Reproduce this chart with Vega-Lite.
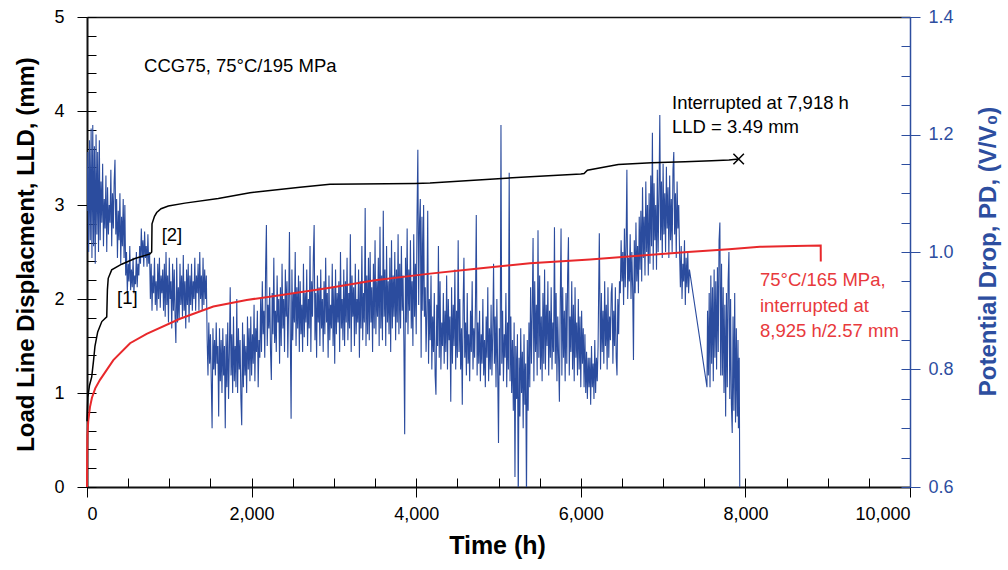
{
  "$schema": "https://vega.github.io/schema/vega-lite/v6.json",
  "width": 823,
  "height": 470,
  "autosize": {"type": "none"},
  "padding": {"left": 87, "top": 17, "right": 98, "bottom": 83},
  "background": "white",
  "config": {
    "font": "Liberation Sans",
    "view": {"stroke": null},
    "axis": {
      "grid": false,
      "labelFont": "Liberation Sans",
      "labelFontSize": 18,
      "labelColor": "black",
      "titleFont": "Liberation Sans",
      "titleFontSize": 24,
      "titleFontWeight": "bold",
      "titleColor": "black",
      "domainColor": "black",
      "tickColor": "black",
      "tickWidth": 1
    }
  },
  "datasets": {
    "pd": [
      {"t":0,"pd":1.07},{"t":10,"pd":1.17},{"t":20,"pd":1.00},{"t":30,"pd":1.19},{"t":40,"pd":1.02},{"t":50,"pd":1.21},{"t":60,"pd":0.99},{"t":70,"pd":1.216},{"t":80,"pd":1.01},{"t":90,"pd":1.18},{"t":100,"pd":0.98},{"t":110,"pd":1.20},{"t":120,"pd":1.03},{"t":130,"pd":1.17},{"t":140,"pd":1.00},{"t":150,"pd":1.19},
      {"t":160,"pd":1.02},{"t":170,"pd":1.12},{"t":180,"pd":1.05},{"t":190,"pd":1.15},{"t":200,"pd":1.01},{"t":210,"pd":1.09},{"t":220,"pd":1.04},{"t":230,"pd":1.13},{"t":240,"pd":1.00},{"t":250,"pd":1.11},{"t":260,"pd":1.03},{"t":270,"pd":1.08},{"t":280,"pd":1.05},{"t":290,"pd":1.14},{"t":300,"pd":1.01},{"t":310,"pd":1.10},{"t":320,"pd":1.04},{"t":330,"pd":1.12},{"t":340,"pd":1.157},
      {"t":350,"pd":1.03},{"t":360,"pd":1.09},{"t":370,"pd":0.99},{"t":380,"pd":1.07},{"t":390,"pd":1.02},{"t":400,"pd":1.10},{"t":410,"pd":0.98},{"t":420,"pd":1.06},{"t":430,"pd":1.01},{"t":440,"pd":1.09},{"t":450,"pd":0.99},{"t":460,"pd":1.08},
      {"t":470,"pd":0.96},{"t":480,"pd":1.00},{"t":490,"pd":0.93},{"t":500,"pd":0.98},{"t":510,"pd":0.95},{"t":520,"pd":1.01},{"t":530,"pd":0.935},{"t":540,"pd":0.97},{"t":550,"pd":0.94},{"t":560,"pd":0.99},{"t":570,"pd":0.93},{"t":580,"pd":0.96},{"t":590,"pd":0.945},{"t":600,"pd":1.00},{"t":610,"pd":0.94},{"t":620,"pd":0.98},{"t":630,"pd":0.96},{"t":640,"pd":1.01},
      {"t":650,"pd":0.98},{"t":660,"pd":1.04},{"t":670,"pd":0.99},{"t":680,"pd":1.02},{"t":690,"pd":0.975},{"t":700,"pd":1.035},{"t":710,"pd":0.99},{"t":720,"pd":1.01},{"t":730,"pd":0.975},{"t":740,"pd":1.03},{"t":750,"pd":0.98},{"t":760,"pd":1.00},
      {"t":770,"pd":0.92},{"t":780,"pd":0.98},{"t":790,"pd":0.90},{"t":800,"pd":0.96},{"t":810,"pd":0.93},{"t":820,"pd":0.99},{"t":830,"pd":0.91},{"t":840,"pd":0.95},{"t":850,"pd":0.90},{"t":860,"pd":0.98},{"t":870,"pd":0.92},{"t":880,"pd":0.99},{"t":890,"pd":0.905},{"t":900,"pd":0.96},{"t":910,"pd":0.93},{"t":920,"pd":0.97},{"t":930,"pd":0.90},{"t":940,"pd":0.98},
      {"t":950,"pd":0.89},{"t":960,"pd":1.00},{"t":970,"pd":0.91},{"t":980,"pd":0.96},{"t":990,"pd":0.88},{"t":1000,"pd":0.99},{"t":1010,"pd":0.92},{"t":1020,"pd":0.95},{"t":1030,"pd":0.87},{"t":1040,"pd":0.98},{"t":1050,"pd":0.90},{"t":1060,"pd":0.97},{"t":1070,"pd":0.89},{"t":1080,"pd":0.845},{"t":1090,"pd":0.99},{"t":1100,"pd":0.88},{"t":1110,"pd":0.94},{"t":1120,"pd":0.885},{"t":1130,"pd":0.98},{"t":1140,"pd":0.91},{"t":1150,"pd":0.96},{"t":1160,"pd":0.89},{"t":1170,"pd":0.995},{"t":1180,"pd":0.90},{"t":1190,"pd":0.95},{"t":1200,"pd":0.87},{"t":1210,"pd":0.97},{"t":1220,"pd":0.91},{"t":1230,"pd":0.98},{"t":1240,"pd":0.88},
      {"t":1250,"pd":0.96},{"t":1260,"pd":0.91},{"t":1270,"pd":0.98},{"t":1280,"pd":0.90},{"t":1290,"pd":0.95},{"t":1300,"pd":0.92},{"t":1310,"pd":0.99},{"t":1320,"pd":0.90},{"t":1330,"pd":0.96},{"t":1340,"pd":0.93},{"t":1350,"pd":0.98},{"t":1360,"pd":0.90},{"t":1370,"pd":1.00},{"t":1380,"pd":0.92},{"t":1390,"pd":0.96},{"t":1400,"pd":0.90},{"t":1410,"pd":0.99},{"t":1420,"pd":0.91},{"t":1430,"pd":0.97},{"t":1440,"pd":0.92},{"t":1450,"pd":0.96},
      {"t":1460,"pd":0.85},{"t":1470,"pd":0.79},{"t":1480,"pd":0.88},{"t":1490,"pd":0.81},{"t":1500,"pd":0.86},{"t":1510,"pd":0.78},{"t":1520,"pd":0.70},{"t":1530,"pd":0.87},{"t":1540,"pd":0.80},{"t":1550,"pd":0.85},{"t":1560,"pd":0.79},{"t":1570,"pd":0.88},{"t":1580,"pd":0.81},{"t":1590,"pd":0.84},{"t":1600,"pd":0.72},{"t":1610,"pd":0.87},
      {"t":1620,"pd":0.78},{"t":1630,"pd":0.85},{"t":1640,"pd":0.76},{"t":1650,"pd":0.87},{"t":1660,"pd":0.79},{"t":1670,"pd":0.84},{"t":1680,"pd":0.70},{"t":1690,"pd":0.86},{"t":1700,"pd":0.77},{"t":1710,"pd":0.88},{"t":1720,"pd":0.75},{"t":1730,"pd":0.83},{"t":1740,"pd":0.94},{"t":1750,"pd":0.79},{"t":1760,"pd":0.86},{"t":1770,"pd":0.76},{"t":1780,"pd":0.89},{"t":1790,"pd":0.78},{"t":1800,"pd":0.84},{"t":1810,"pd":0.77},{"t":1820,"pd":0.92},{"t":1830,"pd":0.76},{"t":1840,"pd":0.87},{"t":1850,"pd":0.80},{"t":1860,"pd":0.85},{"t":1870,"pd":0.75},{"t":1880,"pd":0.705},{"t":1890,"pd":0.88},{"t":1900,"pd":0.77},{"t":1910,"pd":0.86},{"t":1920,"pd":0.79},{"t":1930,"pd":0.84},{"t":1940,"pd":0.76},{"t":1950,"pd":0.89},{"t":1960,"pd":0.80},{"t":1970,"pd":0.87},{"t":1980,"pd":0.78},
      {"t":1990,"pd":0.89},{"t":2000,"pd":0.79},{"t":2010,"pd":0.86},{"t":2020,"pd":0.81},{"t":2030,"pd":0.91},{"t":2040,"pd":0.78},{"t":2050,"pd":0.87},{"t":2060,"pd":0.83},{"t":2070,"pd":0.90},{"t":2080,"pd":0.77},{"t":2090,"pd":0.85},{"t":2100,"pd":0.82},
      {"t":2110,"pd":0.92},{"t":2120,"pd":0.83},{"t":2130,"pd":0.95},{"t":2140,"pd":0.86},{"t":2150,"pd":0.90},{"t":2160,"pd":0.82},{"t":2170,"pd":0.97},{"t":2180,"pd":1.046},{"t":2190,"pd":0.84},{"t":2200,"pd":0.91},{"t":2210,"pd":0.87},{"t":2220,"pd":0.94},{"t":2230,"pd":0.83},{"t":2240,"pd":0.782},{"t":2250,"pd":0.93},{"t":2260,"pd":0.86},{"t":2270,"pd":0.99},{"t":2280,"pd":0.845},{"t":2290,"pd":0.90},{"t":2300,"pd":0.83},{"t":2310,"pd":0.96},{"t":2320,"pd":0.88},{"t":2330,"pd":0.92},{"t":2340,"pd":0.81},
      {"t":2350,"pd":0.94},{"t":2360,"pd":0.84},{"t":2370,"pd":0.98},{"t":2380,"pd":0.87},{"t":2390,"pd":0.92},{"t":2400,"pd":0.83},{"t":2410,"pd":0.97},{"t":2420,"pd":0.89},{"t":2430,"pd":0.95},{"t":2440,"pd":0.82},{"t":2450,"pd":0.91},{"t":2460,"pd":1.034},{"t":2470,"pd":0.86},{"t":2480,"pd":0.716},{"t":2490,"pd":0.97},{"t":2500,"pd":0.85},{"t":2510,"pd":0.93},{"t":2520,"pd":0.88},{"t":2530,"pd":1.00},{"t":2540,"pd":0.84},{"t":2550,"pd":0.94},{"t":2560,"pd":0.87},{"t":2570,"pd":0.96},{"t":2580,"pd":0.83},
      {"t":2590,"pd":0.95},{"t":2600,"pd":0.86},{"t":2610,"pd":0.91},{"t":2620,"pd":0.83},{"t":2630,"pd":0.98},{"t":2640,"pd":0.855},{"t":2650,"pd":0.93},{"t":2660,"pd":0.88},{"t":2670,"pd":0.97},{"t":2680,"pd":0.84},{"t":2690,"pd":0.92},{"t":2700,"pd":0.87},{"t":2710,"pd":1.01},{"t":2720,"pd":0.83},{"t":2730,"pd":0.95},{"t":2740,"pd":0.89},{"t":2750,"pd":0.99},{"t":2760,"pd":1.046},{"t":2770,"pd":0.85},{"t":2780,"pd":0.93},{"t":2790,"pd":0.82},{"t":2800,"pd":0.96},{"t":2810,"pd":0.88},{"t":2820,"pd":0.94},
      {"t":2830,"pd":0.84},{"t":2840,"pd":0.97},{"t":2850,"pd":0.87},{"t":2860,"pd":0.92},{"t":2870,"pd":0.83},{"t":2880,"pd":0.95},{"t":2890,"pd":0.86},{"t":2900,"pd":0.99},{"t":2910,"pd":0.88},{"t":2920,"pd":0.93},{"t":2930,"pd":0.82},{"t":2940,"pd":0.96},{"t":2950,"pd":0.85},{"t":2960,"pd":0.91},{"t":2970,"pd":0.87},{"t":2980,"pd":0.98},{"t":2990,"pd":0.84},{"t":3000,"pd":0.94},{"t":3010,"pd":0.81},{"t":3020,"pd":0.97},{"t":3030,"pd":0.86},{"t":3040,"pd":0.93},{"t":3050,"pd":0.88},{"t":3060,"pd":0.95},{"t":3070,"pd":0.83},{"t":3080,"pd":1.00},{"t":3090,"pd":0.87},{"t":3100,"pd":0.92},{"t":3110,"pd":0.85},{"t":3120,"pd":0.97},
      {"t":3130,"pd":0.84},{"t":3140,"pd":0.95},{"t":3150,"pd":0.88},{"t":3160,"pd":0.99},{"t":3170,"pd":0.85},{"t":3180,"pd":0.93},{"t":3190,"pd":0.87},{"t":3200,"pd":1.03},{"t":3210,"pd":0.83},{"t":3220,"pd":0.96},{"t":3230,"pd":0.89},{"t":3240,"pd":0.94},{"t":3250,"pd":0.84},{"t":3260,"pd":0.98},{"t":3270,"pd":0.86},{"t":3280,"pd":0.92},{"t":3290,"pd":0.88},{"t":3300,"pd":0.97},{"t":3310,"pd":0.82},{"t":3320,"pd":0.95},{"t":3330,"pd":0.87},{"t":3340,"pd":1.01},{"t":3350,"pd":0.85},{"t":3360,"pd":0.93},{"t":3370,"pd":0.88},{"t":3380,"pd":1.075},{"t":3390,"pd":0.84},{"t":3400,"pd":0.96},{"t":3410,"pd":0.86},{"t":3420,"pd":0.99},
      {"t":3430,"pd":0.85},{"t":3440,"pd":1.00},{"t":3450,"pd":0.88},{"t":3460,"pd":0.94},{"t":3470,"pd":0.83},{"t":3480,"pd":0.98},{"t":3490,"pd":0.87},{"t":3500,"pd":1.02},{"t":3510,"pd":0.86},{"t":3520,"pd":0.95},{"t":3530,"pd":0.89},{"t":3540,"pd":0.99},{"t":3550,"pd":0.84},{"t":3560,"pd":1.043},{"t":3570,"pd":0.87},{"t":3580,"pd":0.96},{"t":3590,"pd":0.85},{"t":3600,"pd":1.07},{"t":3610,"pd":0.89},{"t":3620,"pd":0.97},{"t":3630,"pd":0.84},{"t":3640,"pd":1.01},{"t":3650,"pd":0.88},{"t":3660,"pd":0.95},{"t":3670,"pd":0.86},{"t":3680,"pd":0.99},{"t":3690,"pd":0.83},{"t":3700,"pd":1.02},{"t":3710,"pd":0.87},{"t":3720,"pd":0.96},{"t":3730,"pd":0.89},{"t":3740,"pd":1.00},{"t":3750,"pd":0.85},{"t":3760,"pd":0.97},{"t":3770,"pd":0.88},{"t":3780,"pd":1.03},{"t":3790,"pd":0.86},{"t":3800,"pd":0.98},
      {"t":3810,"pd":0.87},{"t":3820,"pd":1.01},{"t":3830,"pd":0.90},{"t":3840,"pd":0.96},{"t":3850,"pd":0.85},{"t":3860,"pd":0.69},{"t":3870,"pd":0.99},{"t":3880,"pd":0.88},{"t":3890,"pd":1.04},{"t":3900,"pd":0.86},{"t":3910,"pd":0.97},{"t":3920,"pd":0.90},{"t":3930,"pd":1.02},{"t":3940,"pd":0.87},{"t":3950,"pd":0.95},{"t":3960,"pd":0.84},{"t":3970,"pd":1.03},{"t":3980,"pd":0.89},{"t":3990,"pd":0.98},{"t":4000,"pd":0.86},{"t":4010,"pd":1.06},{"t":4020,"pd":1.174},{"t":4030,"pd":0.91},{"t":4040,"pd":1.05},
      {"t":4050,"pd":1.09},{"t":4060,"pd":0.82},{"t":4070,"pd":1.06},{"t":4080,"pd":0.90},{"t":4090,"pd":1.08},{"t":4100,"pd":0.89},
      {"t":4110,"pd":0.94},{"t":4120,"pd":0.83},{"t":4130,"pd":0.90},{"t":4140,"pd":1.07},{"t":4150,"pd":0.81},{"t":4160,"pd":0.92},{"t":4170,"pd":0.85},{"t":4180,"pd":0.96},{"t":4190,"pd":0.80},{"t":4200,"pd":0.89},{"t":4210,"pd":0.83},{"t":4220,"pd":0.93},{"t":4230,"pd":0.79},{"t":4240,"pd":0.757},{"t":4250,"pd":0.91},{"t":4260,"pd":0.84},{"t":4270,"pd":1.01},{"t":4280,"pd":0.82},{"t":4290,"pd":0.95},{"t":4300,"pd":0.80},{"t":4310,"pd":0.88},{"t":4320,"pd":0.84},{"t":4330,"pd":0.93},{"t":4340,"pd":0.81},
      {"t":4350,"pd":0.90},{"t":4360,"pd":0.83},{"t":4370,"pd":0.96},{"t":4380,"pd":0.80},{"t":4390,"pd":0.92},{"t":4400,"pd":0.85},{"t":4410,"pd":0.89},{"t":4420,"pd":0.745},{"t":4430,"pd":0.94},{"t":4440,"pd":0.81},{"t":4450,"pd":0.91},{"t":4460,"pd":0.84},{"t":4470,"pd":0.97},{"t":4480,"pd":0.80},{"t":4490,"pd":0.90},{"t":4500,"pd":0.82},{"t":4510,"pd":1.02},{"t":4520,"pd":0.83},
      {"t":4530,"pd":0.92},{"t":4540,"pd":0.80},{"t":4550,"pd":0.87},{"t":4560,"pd":0.74},{"t":4570,"pd":0.91},{"t":4580,"pd":0.99},{"t":4590,"pd":0.82},{"t":4600,"pd":0.88},{"t":4610,"pd":0.79},{"t":4620,"pd":0.93},{"t":4630,"pd":0.81},{"t":4640,"pd":0.86},{"t":4650,"pd":0.78},{"t":4660,"pd":0.90},{"t":4670,"pd":0.83},{"t":4680,"pd":0.95},{"t":4690,"pd":0.80},{"t":4700,"pd":0.87},{"t":4710,"pd":0.82},{"t":4720,"pd":0.91},{"t":4730,"pd":1.063},{"t":4740,"pd":0.79},{"t":4750,"pd":0.88},{"t":4760,"pd":0.81},
      {"t":4770,"pd":0.90},{"t":4780,"pd":0.78},{"t":4790,"pd":0.86},{"t":4800,"pd":0.81},{"t":4810,"pd":0.92},{"t":4820,"pd":0.79},{"t":4830,"pd":0.85},{"t":4840,"pd":0.77},{"t":4850,"pd":0.89},{"t":4860,"pd":0.82},{"t":4870,"pd":0.94},{"t":4880,"pd":0.78},{"t":4890,"pd":0.87},{"t":4900,"pd":0.80},{"t":4910,"pd":0.91},{"t":4920,"pd":0.79},{"t":4930,"pd":0.86},{"t":4940,"pd":0.98},{"t":4950,"pd":0.81},{"t":4960,"pd":0.89},{"t":4970,"pd":0.77},{"t":4980,"pd":0.92},{"t":4990,"pd":0.80},{"t":5000,"pd":0.675},
      {"t":5010,"pd":0.87},{"t":5020,"pd":0.79},{"t":5030,"pd":1.216},{"t":5040,"pd":0.81},{"t":5050,"pd":0.90},{"t":5060,"pd":0.78},{"t":5070,"pd":0.86},{"t":5080,"pd":0.82},{"t":5090,"pd":0.93},{"t":5100,"pd":0.77},{"t":5110,"pd":0.88},{"t":5120,"pd":0.80},{"t":5130,"pd":1.135},{"t":5140,"pd":0.78},{"t":5150,"pd":0.89},{"t":5160,"pd":0.76},
      {"t":5170,"pd":0.85},{"t":5180,"pd":0.73},{"t":5190,"pd":0.88},{"t":5200,"pd":0.617},{"t":5210,"pd":0.84},{"t":5220,"pd":0.75},{"t":5230,"pd":0.86},{"t":5240,"pd":0.57},{"t":5250,"pd":0.82},{"t":5260,"pd":0.72},{"t":5270,"pd":0.87},{"t":5280,"pd":0.76},{"t":5290,"pd":0.83},{"t":5300,"pd":0.70},{"t":5310,"pd":0.86},{"t":5320,"pd":0.74},{"t":5330,"pd":0.81},{"t":5340,"pd":0.58},{"t":5350,"pd":0.85},{"t":5360,"pd":0.73},{"t":5370,"pd":0.88},{"t":5380,"pd":0.77},
      {"t":5390,"pd":0.94},{"t":5400,"pd":0.81},{"t":5410,"pd":0.90},{"t":5420,"pd":1.024},{"t":5430,"pd":0.78},{"t":5440,"pd":0.95},{"t":5450,"pd":0.83},{"t":5460,"pd":0.91},{"t":5470,"pd":0.79},{"t":5480,"pd":1.037},{"t":5490,"pd":0.82},{"t":5500,"pd":0.96},{"t":5510,"pd":0.80},{"t":5520,"pd":0.89},{"t":5530,"pd":0.78},{"t":5540,"pd":0.93},{"t":5550,"pd":0.81},{"t":5560,"pd":0.97},
      {"t":5570,"pd":0.80},{"t":5580,"pd":0.91},{"t":5590,"pd":0.84},{"t":5600,"pd":0.95},{"t":5610,"pd":0.79},{"t":5620,"pd":0.90},{"t":5630,"pd":0.82},{"t":5640,"pd":0.94},{"t":5650,"pd":0.80},{"t":5660,"pd":0.88},{"t":5670,"pd":0.83},{"t":5680,"pd":1.042},{"t":5690,"pd":0.81},{"t":5700,"pd":0.93},{"t":5710,"pd":0.78},{"t":5720,"pd":0.89},{"t":5730,"pd":0.82},{"t":5740,"pd":0.745},
      {"t":5750,"pd":0.91},{"t":5760,"pd":1.04},{"t":5770,"pd":0.79},{"t":5780,"pd":0.94},{"t":5790,"pd":0.82},{"t":5800,"pd":0.90},{"t":5810,"pd":0.78},{"t":5820,"pd":0.93},{"t":5830,"pd":0.81},{"t":5840,"pd":0.96},{"t":5850,"pd":1.025},{"t":5860,"pd":0.79},{"t":5870,"pd":0.89},{"t":5880,"pd":0.83},{"t":5890,"pd":0.95},{"t":5900,"pd":0.80},{"t":5910,"pd":0.91},{"t":5920,"pd":0.78},{"t":5930,"pd":0.94},{"t":5940,"pd":0.82},{"t":5950,"pd":0.88},{"t":5960,"pd":0.79},{"t":5970,"pd":0.92},{"t":5980,"pd":0.80},{"t":5990,"pd":0.89},{"t":6000,"pd":0.77},{"t":6010,"pd":0.90},{"t":6020,"pd":0.81},{"t":6030,"pd":0.87},{"t":6040,"pd":0.77},{"t":6050,"pd":0.86},{"t":6060,"pd":0.76},{"t":6070,"pd":0.83},{"t":6080,"pd":0.75},{"t":6090,"pd":0.82},{"t":6100,"pd":0.77},
      {"t":6110,"pd":0.82},{"t":6120,"pd":0.74},{"t":6130,"pd":0.84},{"t":6140,"pd":0.77},{"t":6150,"pd":0.81},{"t":6160,"pd":0.75},{"t":6170,"pd":0.85},{"t":6180,"pd":0.76},{"t":6190,"pd":0.82},{"t":6200,"pd":0.78},{"t":6210,"pd":0.84},{"t":6225,"pd":1.032},
      {"t":6240,"pd":0.80},{"t":6250,"pd":0.93},{"t":6260,"pd":0.83},{"t":6270,"pd":0.90},{"t":6280,"pd":0.81},{"t":6290,"pd":0.95},{"t":6300,"pd":0.84},{"t":6310,"pd":0.91},{"t":6320,"pd":0.80},{"t":6330,"pd":0.94},{"t":6340,"pd":0.82},{"t":6350,"pd":0.89},{"t":6360,"pd":0.85},{"t":6370,"pd":0.93},{"t":6380,"pd":0.947},{"t":6390,"pd":0.81},{"t":6400,"pd":0.90},{"t":6410,"pd":0.84},{"t":6420,"pd":0.94},{"t":6430,"pd":0.82},{"t":6440,"pd":0.79},{"t":6450,"pd":0.92},{"t":6460,"pd":0.86},{"t":6470,"pd":0.95},
      {"t":6480,"pd":0.93},{"t":6490,"pd":1.02},{"t":6500,"pd":0.95},{"t":6510,"pd":1.00},{"t":6520,"pd":0.91},{"t":6530,"pd":1.04},{"t":6540,"pd":0.94},{"t":6550,"pd":1.01},{"t":6560,"pd":1.14},{"t":6570,"pd":0.92},{"t":6580,"pd":0.99},{"t":6590,"pd":0.95},{"t":6600,"pd":1.03},{"t":6610,"pd":0.92},{"t":6620,"pd":1.00},{"t":6630,"pd":0.94},{"t":6640,"pd":0.816},{"t":6650,"pd":1.02},{"t":6660,"pd":0.93},{"t":6670,"pd":1.05},{"t":6680,"pd":0.95},{"t":6690,"pd":1.01},{"t":6700,"pd":0.93},{"t":6710,"pd":1.06},
      {"t":6720,"pd":0.97},{"t":6730,"pd":1.07},{"t":6740,"pd":0.95},{"t":6750,"pd":1.11},{"t":6760,"pd":0.99},{"t":6770,"pd":1.06},{"t":6780,"pd":0.96},{"t":6790,"pd":1.12},{"t":6800,"pd":1.00},{"t":6810,"pd":1.08},{"t":6820,"pd":0.96},{"t":6830,"pd":1.10},{"t":6840,"pd":0.98},{"t":6850,"pd":1.13},{"t":6860,"pd":1.01},{"t":6870,"pd":1.203},{"t":6880,"pd":0.97},{"t":6890,"pd":1.117},{"t":6900,"pd":1.02},{"t":6910,"pd":1.08},{"t":6920,"pd":0.97},{"t":6930,"pd":1.14},{"t":6940,"pd":1.00},{"t":6950,"pd":1.10},{"t":6960,"pd":1.233},
      {"t":6970,"pd":1.02},{"t":6980,"pd":1.12},{"t":6990,"pd":0.99},{"t":7000,"pd":1.15},{"t":7010,"pd":1.03},{"t":7020,"pd":1.10},{"t":7030,"pd":1.00},{"t":7040,"pd":1.145},{"t":7050,"pd":1.04},{"t":7060,"pd":1.11},{"t":7070,"pd":0.99},{"t":7080,"pd":1.13},{"t":7090,"pd":1.02},{"t":7100,"pd":1.09},{"t":7110,"pd":1.00},{"t":7120,"pd":1.14},{"t":7130,"pd":1.17},{"t":7140,"pd":1.03},{"t":7150,"pd":1.10},{"t":7160,"pd":0.99},{"t":7170,"pd":1.12},{"t":7180,"pd":1.04},{"t":7190,"pd":1.08},{"t":7200,"pd":1.00},
      {"t":7210,"pd":0.94},{"t":7220,"pd":1.01},{"t":7230,"pd":0.92},{"t":7240,"pd":0.98},{"t":7250,"pd":0.95},{"t":7260,"pd":1.02},{"t":7270,"pd":0.91},{"t":7280,"pd":0.99},{"t":7290,"pd":0.94},{"t":7300,"pd":1.00},{"t":7310,"pd":0.93},{"t":7320,"pd":0.97},
      {"t":7533,"pd":0.77},
      {"t":7540,"pd":0.90},{"t":7550,"pd":0.79},{"t":7560,"pd":0.93},{"t":7570,"pd":0.77},{"t":7580,"pd":0.96},{"t":7590,"pd":0.81},{"t":7600,"pd":0.94},{"t":7610,"pd":0.78},{"t":7620,"pd":0.97},{"t":7630,"pd":0.82},{"t":7640,"pd":0.95},{"t":7650,"pd":0.80},{"t":7660,"pd":0.974},{"t":7670,"pd":0.83},{"t":7680,"pd":1.02},{"t":7690,"pd":1.05},{"t":7700,"pd":0.79},{"t":7710,"pd":0.98},
      {"t":7720,"pd":0.79},{"t":7730,"pd":0.94},{"t":7740,"pd":0.76},{"t":7750,"pd":0.91},{"t":7760,"pd":0.72},{"t":7770,"pd":0.93},{"t":7780,"pd":0.77},{"t":7790,"pd":0.95},{"t":7800,"pd":1.00},{"t":7810,"pd":0.75},{"t":7820,"pd":0.92},{"t":7830,"pd":0.74},{"t":7840,"pd":0.692},{"t":7850,"pd":0.89},{"t":7860,"pd":0.73},{"t":7870,"pd":0.93},{"t":7880,"pd":0.71},{"t":7890,"pd":0.87},{"t":7900,"pd":0.72},{"t":7910,"pd":0.85},{"t":7915,"pd":0.70},{"t":7925,"pd":0.82},{"t":7932,"pd":0.58}
    ],
    "red": [
      {"t":0,"lld":0},{"t":2,"lld":0.35},{"t":5,"lld":0.55},{"t":15,"lld":0.7},{"t":36,"lld":0.85},{"t":60,"lld":0.95},{"t":100,"lld":1.05},{"t":158,"lld":1.14},{"t":320,"lld":1.35},{"t":523,"lld":1.53},{"t":725,"lld":1.63},{"t":1130,"lld":1.79},{"t":1535,"lld":1.92},{"t":1940,"lld":1.99},{"t":2345,"lld":2.04},{"t":2953,"lld":2.12},{"t":3500,"lld":2.2},{"t":4168,"lld":2.27},{"t":4700,"lld":2.32},{"t":5383,"lld":2.38},{"t":6111,"lld":2.42},{"t":6700,"lld":2.46},{"t":7300,"lld":2.5},{"t":7800,"lld":2.53},{"t":8177,"lld":2.555},{"t":8600,"lld":2.565},{"t":8915,"lld":2.57},{"t":8916,"lld":2.4}
    ],
    "black": [
      {"t":0,"lld":0.7},{"t":10,"lld":0.95},{"t":30,"lld":1.08},{"t":57,"lld":1.17},{"t":80,"lld":1.35},{"t":97,"lld":1.5},{"t":130,"lld":1.65},{"t":180,"lld":1.76},{"t":240,"lld":1.81},{"t":248,"lld":2.1},{"t":258,"lld":2.22},{"t":300,"lld":2.31},{"t":421,"lld":2.37},{"t":583,"lld":2.43},{"t":766,"lld":2.48},{"t":786,"lld":2.5},{"t":790,"lld":2.8},{"t":820,"lld":2.88},{"t":847,"lld":2.92},{"t":900,"lld":2.96},{"t":988,"lld":2.99},{"t":1190,"lld":3.02},{"t":1595,"lld":3.07},{"t":1980,"lld":3.13},{"t":2588,"lld":3.19},{"t":2953,"lld":3.22},{"t":3985,"lld":3.23},{"t":4168,"lld":3.235},{"t":4994,"lld":3.28},{"t":5383,"lld":3.3},{"t":6000,"lld":3.33},{"t":6040,"lld":3.335},{"t":6080,"lld":3.37},{"t":6455,"lld":3.43},{"t":6860,"lld":3.45},{"t":7266,"lld":3.46},{"t":7590,"lld":3.47},{"t":7800,"lld":3.48},{"t":7918,"lld":3.49}
    ],
    "marker": [{"t":7918,"lld":3.49}],
    "notesBlack": [
      {"t":693,"lld":4.48,"label":"CCG75, 75°C/195 MPa"},
      {"t":7108,"lld":4.085,"label":"Interrupted at 7,918 h"},
      {"t":7108,"lld":3.83,"label":"LLD = 3.49 mm"},
      {"t":365,"lld":2.01,"label":"[1]"},
      {"t":907,"lld":2.68,"label":"[2]"}
    ],
    "notesRed": [
      {"t":8177,"lld":2.2,"label":"75°C/165 MPa,"},
      {"t":8177,"lld":1.93,"label":"interrupted at"},
      {"t":8177,"lld":1.66,"label":"8,925 h/2.57 mm"}
    ],
    "frame": [{"t":0,"pd":1.0}]
  },
  "resolve": {"scale": {"y": "independent"}, "axis": {"x": "independent", "y": "independent"}},
  "layer": [
    {
      "data": {"name": "pd"},
      "mark": {"type": "line", "color": "#2B4C9E", "strokeWidth": 1.1, "clip": true},
      "encoding": {
        "x": {"field": "t", "type": "quantitative", "scale": {"domain": [0, 10000], "nice": false},
          "axis": {"orient": "bottom", "values": [0, 2000, 4000, 6000, 8000, 10000], "format": ",d", "tickSize": 10, "domainWidth": 2, "domainColor": "#111", "labelPadding": 8,
            "title": "Time (h)", "titleX": 410, "titleY": 58, "titleAlign": "center", "titleBaseline": "middle", "titleFontSize": 25}},
        "y": {"field": "pd", "type": "quantitative", "scale": {"domain": [0.6, 1.4], "nice": false, "zero": false},
          "axis": {"orient": "right", "values": [0.6, 0.8, 1.0, 1.2, 1.4], "format": ".1f", "tickSize": 10, "tickColor": "#2D4E9F", "domainColor": "#2D4E9F", "domainWidth": 1.5, "labelColor": "#2D4E9F", "labelPadding": 8,
            "title": "Potential Drop, PD, (V/V₀)", "titleColor": "#2D4E9F", "titleAngle": 270, "titleX": 78, "titleY": 234, "titleAlign": "center", "titleBaseline": "middle"}}
      }
    },
    {
      "data": {"name": "frame"},
      "mark": {"type": "point", "opacity": 0},
      "encoding": {
        "x": {"field": "t", "type": "quantitative",
          "axis": {"orient": "bottom", "values": [0,500,1000,1500,2000,2500,3000,3500,4000,4500,5000,5500,6000,6500,7000,7500,8000,8500,9000,9500,10000], "tickSize": -9, "labels": false, "domain": false, "title": null}},
        "y": {"field": "pd", "type": "quantitative", "scale": {"domain": [0.6, 1.4], "nice": false, "zero": false},
          "axis": {"orient": "right", "values": [0.6,0.65,0.7,0.75,0.8,0.85,0.9,0.95,1.0,1.05,1.1,1.15,1.2,1.25,1.3,1.35,1.4], "tickSize": -9, "tickColor": "#2D4E9F", "labels": false, "domain": false, "title": null}}
      }
    },
    {
      "data": {"name": "red"},
      "mark": {"type": "line", "color": "#E8282B", "strokeWidth": 2},
      "encoding": {
        "x": {"field": "t", "type": "quantitative",
          "axis": {"orient": "top", "ticks": false, "labels": false, "domain": true, "domainWidth": 1.5, "domainColor": "#111", "title": null}},
        "y": {"field": "lld", "type": "quantitative", "scale": {"domain": [0, 5], "nice": false},
          "axis": {"orient": "left", "values": [0, 1, 2, 3, 4, 5], "format": "d", "tickSize": 10, "domainWidth": 2, "domainColor": "#111", "labelPadding": 13,
            "title": "Load Line Displacment, LLD, (mm)", "titleX": -61, "titleY": 237, "titleAlign": "center", "titleBaseline": "middle", "titleAngle": 270}}
      }
    },
    {
      "data": {"name": "black"},
      "mark": {"type": "line", "color": "black", "strokeWidth": 1.5},
      "encoding": {
        "x": {"field": "t", "type": "quantitative", "axis": null},
        "y": {"field": "lld", "type": "quantitative", "scale": {"domain": [0, 5], "nice": false},
          "axis": {"orient": "left", "values": [0,0.2,0.4,0.6,0.8,1,1.2,1.4,1.6,1.8,2,2.2,2.4,2.6,2.8,3,3.2,3.4,3.6,3.8,4,4.2,4.4,4.6,4.8,5], "tickSize": -9, "labels": false, "domain": false, "title": null}}
      }
    },
    {
      "data": {"name": "marker"},
      "mark": {"type": "point", "shape": "M-1,-1L1,1M-1,1L1,-1", "filled": false, "stroke": "black", "strokeWidth": 1.5, "size": 110, "opacity": 1},
      "encoding": {
        "x": {"field": "t", "type": "quantitative", "axis": null},
        "y": {"field": "lld", "type": "quantitative", "scale": {"domain": [0, 5], "nice": false}, "axis": null}
      }
    },
    {
      "data": {"name": "notesBlack"},
      "mark": {"type": "text", "align": "left", "baseline": "middle", "fontSize": 18.5, "font": "Liberation Sans", "color": "black"},
      "encoding": {
        "x": {"field": "t", "type": "quantitative", "axis": null},
        "y": {"field": "lld", "type": "quantitative", "scale": {"domain": [0, 5], "nice": false}, "axis": null},
        "text": {"field": "label"}
      }
    },
    {
      "data": {"name": "notesRed"},
      "mark": {"type": "text", "align": "left", "baseline": "middle", "fontSize": 18.5, "font": "Liberation Sans", "color": "#E8393C"},
      "encoding": {
        "x": {"field": "t", "type": "quantitative", "axis": null},
        "y": {"field": "lld", "type": "quantitative", "scale": {"domain": [0, 5], "nice": false}, "axis": null},
        "text": {"field": "label"}
      }
    }
  ]
}
